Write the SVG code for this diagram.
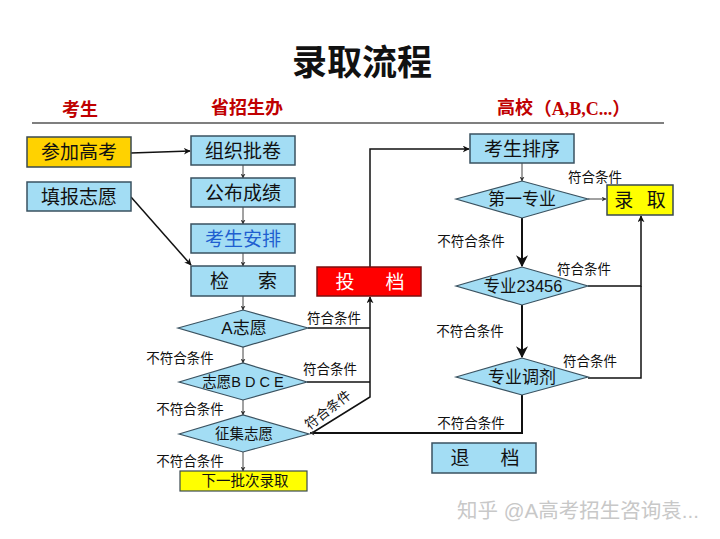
<svg xmlns="http://www.w3.org/2000/svg" width="720" height="539" viewBox="0 0 720 539">
<defs>
<marker id="ah" viewBox="0 0 10 10" refX="9" refY="5" markerWidth="7" markerHeight="7" orient="auto" markerUnits="userSpaceOnUse"><path d="M0,0 L10,5 L0,10 L3,5 z" fill="#111"/></marker>
<marker id="ahb" viewBox="0 0 10 10" refX="9" refY="5" markerWidth="12" markerHeight="12" orient="auto" markerUnits="userSpaceOnUse"><path d="M0,0 L10,5 L0,10 L3,5 z" fill="#111"/></marker>
<marker id="ahs" viewBox="0 0 10 10" refX="9" refY="5" markerWidth="5" markerHeight="5" orient="auto" markerUnits="userSpaceOnUse"><path d="M0,0 L10,5 L0,10 L3,5 z" fill="#333"/></marker>
</defs>
<style>
text{font-family:"Liberation Sans","Noto Sans CJK SC",sans-serif;dominant-baseline:central;text-anchor:middle;fill:#111}
.box{fill:#A3DDF4;stroke:#3A5260;stroke-width:1.5}
.dia{fill:#A3DDF4;stroke:#3A5260;stroke-width:1.2}
.bt{font-size:19px}
.dt{font-size:16.5px}
.lb{font-size:13.5px}
.hd{font-size:18px;font-weight:bold;fill:#C00000}
.c{fill:none;stroke:#111;stroke-width:1.5}
.cs{fill:none;stroke:#444;stroke-width:1}
.ct{fill:none;stroke:#111;stroke-width:2}
</style>
<rect width="720" height="539" fill="#fff"/>
<text x="362" y="62" style="font-size:35px;font-weight:bold">录取流程</text>
<g id="headers">
<text class="hd" x="80" y="110">考生</text>
<text class="hd" x="247" y="108">省招生办</text>
<text class="hd" x="515" y="108">高校</text>
<text x="582" y="109" style="font-family:'Liberation Serif','Noto Sans CJK SC',serif;font-size:18px;font-weight:bold;fill:#C00000">（A,B,C...）</text>
<line x1="32" y1="123" x2="664" y2="123" stroke="#555" stroke-width="1.5"/>
</g>
<g id="connectors">
<line class="c" x1="131" y1="153" x2="190" y2="151" marker-end="url(#ah)"/>
<line class="c" x1="131" y1="197" x2="191" y2="265" marker-end="url(#ah)"/>
<line class="cs" x1="243" y1="165" x2="243" y2="178" marker-end="url(#ahs)"/>
<line class="cs" x1="243" y1="207" x2="243" y2="224" marker-end="url(#ahs)"/>
<line class="cs" x1="243" y1="253" x2="243" y2="266" marker-end="url(#ahs)"/>
<line class="cs" x1="243" y1="296" x2="243" y2="310" marker-end="url(#ahs)"/>
<line class="cs" x1="243" y1="347" x2="243" y2="363" marker-end="url(#ahs)"/>
<line class="cs" x1="243" y1="400" x2="243" y2="415" marker-end="url(#ahs)"/>
<line class="cs" x1="243" y1="452" x2="243" y2="471" marker-end="url(#ahs)"/>
<polyline class="c" points="308,328 370,328"/>
<polyline class="c" points="307,382 370,382"/>
<polyline class="c" points="312,433 370,397 370,297" marker-end="url(#ah)"/>
<polyline class="c" points="370,267 370,149 469,149" marker-end="url(#ah)"/>
<line class="cs" x1="522" y1="163" x2="522" y2="181" marker-end="url(#ahs)"/>
<line class="cs" x1="588" y1="199" x2="606" y2="199" marker-end="url(#ahs)"/>
<line class="ct" x1="522" y1="218" x2="522" y2="266" marker-end="url(#ahb)"/>
<line class="ct" x1="522" y1="305" x2="522" y2="357" marker-end="url(#ahb)"/>
<polyline class="c" points="588,286 641,286 641,216" marker-end="url(#ah)"/>
<polyline class="c" points="588,378 641,378 641,286"/>
<polyline class="ct" points="522,395 522,433 310,433" marker-end="url(#ahs)"/>
<text class="lb" x="334" y="318">符合条件</text>
<text class="lb" x="330" y="369">符合条件</text>
<text class="lb" transform="translate(328,410) rotate(-38)">符合条件</text>
<text class="lb" x="180" y="358">不符合条件</text>
<text class="lb" x="190" y="409">不符合条件</text>
<text class="lb" x="190" y="461">不符合条件</text>
<text class="lb" x="595" y="177">符合条件</text>
<text class="lb" x="471" y="241">不符合条件</text>
<text class="lb" x="584" y="269">符合条件</text>
<text class="lb" x="470" y="331">不符合条件</text>
<text class="lb" x="590" y="361">符合条件</text>
<text class="lb" x="471" y="423">不符合条件</text>
</g>
<g id="n-canjia"><rect x="27" y="137" width="104" height="30" fill="#FFD200" stroke="#3A4A50" stroke-width="1.5"/><text class="bt" x="79" y="152">参加高考</text></g>
<g id="n-tianbao"><rect class="box" x="27" y="182" width="104" height="29"/><text class="bt" x="79" y="197">填报志愿</text></g>
<g id="n-zuzhi"><rect class="box" x="191" y="136" width="104" height="29"/><text class="bt" x="243" y="151">组织批卷</text></g>
<g id="n-gongbu"><rect class="box" x="191" y="178" width="104" height="29"/><text class="bt" x="243" y="193">公布成绩</text></g>
<g id="n-anpai"><rect class="box" x="191" y="224" width="104" height="29"/><text class="bt" x="243" y="239" style="fill:#1F5FD0">考生安排</text></g>
<g id="n-jiansuo"><rect class="box" x="191" y="266" width="104" height="30"/><text class="bt" x="246" y="281" style="letter-spacing:5px">检　索</text></g>
<g id="n-toudang"><rect x="317" y="267" width="104" height="29" fill="#FF0000" stroke="#7A1010" stroke-width="1.5"/><text class="bt" x="373" y="282" style="fill:#fff;letter-spacing:6px">投　档</text></g>
<g id="n-paixu"><rect class="box" x="470" y="134" width="104" height="29"/><text class="bt" x="522" y="149">考生排序</text></g>
<g id="n-luqu"><rect x="607" y="185" width="66" height="30" fill="#FFFF00" stroke="#3A4A50" stroke-width="1.5"/><text class="bt" x="642" y="200" style="letter-spacing:4px">录 取</text></g>
<g id="n-tuidang"><rect class="box" x="432" y="443" width="104" height="30"/><text class="bt" x="488" y="458" style="letter-spacing:6px">退　档</text></g>
<g id="n-xiayipi"><rect x="180" y="471" width="127" height="20" fill="#FFFF00" stroke="#3A4A50" stroke-width="1.2"/><text x="245" y="481" style="font-size:14.5px">下一批次录取</text></g>
<g id="n-a"><polygon class="dia" points="178,328 243,310 308,328 243,347"/><text x="244" y="328" style="font-size:17px">A志愿</text></g>
<g id="n-bdce"><polygon class="dia" points="179,382 243,363 307,382 243,400"/><text x="243" y="382" style="font-size:14.5px">志愿B D C E</text></g>
<g id="n-zhengji"><polygon class="dia" points="179,434 243,415 309,434 243,452"/><text x="244" y="434" style="font-size:14.5px">征集志愿</text></g>
<g id="n-diyi"><polygon class="dia" points="456,199 522,181 588,199 522,218"/><text x="522" y="199" style="font-size:17px">第一专业</text></g>
<g id="n-zy23456"><polygon class="dia" points="456,286 522,267 588,286 522,305"/><text x="523" y="286" class="dt">专业23456</text></g>
<g id="n-tiaoji"><polygon class="dia" points="456,377 522,358 588,377 522,395"/><text x="522" y="377" style="font-size:17px">专业调剂</text></g>
<text x="578" y="510" style="font-size:20.5px;fill:#c8c8c8">知乎 @A高考招生咨询袁...</text>
</svg>
